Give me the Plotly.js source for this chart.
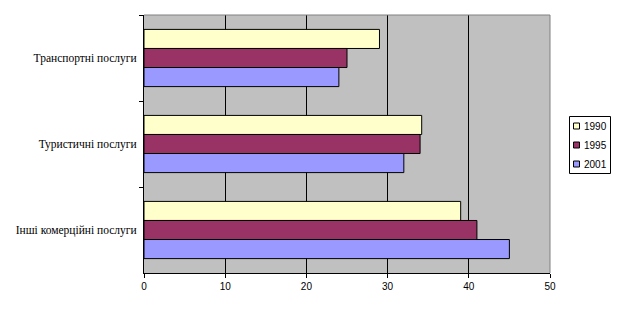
<!DOCTYPE html>
<html><head><meta charset="utf-8">
<script src="https://cdn.plot.ly/plotly-3.0.1.min.js"></script>
<style>body{margin:0;padding:0;background:#fff}#chart{width:621px;height:315px}</style>
</head><body><div id="chart"></div>
<script>
var categories = ['Транспортні послуги', 'Туристичні послуги', 'Інші комерційні послуги'];
var seriesNames = ['1990', '1995', '2001'];
var values1990 = [29, 34.2, 39];
var values1995 = [25, 34, 41];
var values2001 = [24, 32, 45];
var xTicks = [0, 10, 20, 30, 40, 50];
var colors = ['#FFFFCC', '#993366', '#9999FF'];
var allValues = [values1990, values1995, values2001];

var W = 621, H = 315, L = 144, R = 71, T = 15, B = 42;
var pw = W - L - R, ph = H - T - B;
function px(x){ return (x - L) / pw; }
function py(y){ return (H - B - y) / ph; }

var traces = seriesNames.map(function(n, i){
  return {type:'bar', orientation:'h', name:n, y:categories, x:allValues[i],
    marker:{color:colors[i], line:{color:'#000', width:1}}, hoverinfo:'none', showlegend:false};
});
var serif = {family:'Liberation Serif, Times New Roman, serif', size:11.5, color:'#000'};
var sans = {family:'Liberation Sans, Arial, sans-serif', size:10, color:'#000'};

var shapes = [
  {type:'line', xref:'paper', yref:'paper', x0:0, x1:1, y0:1, y1:1, line:{color:'#808080', width:1}},
  {type:'line', xref:'paper', yref:'paper', x0:1, x1:1, y0:0, y1:1, line:{color:'#808080', width:1}},
  {type:'rect', xref:'paper', yref:'paper', x0:px(569.5), x1:px(610.5), y0:py(116.5), y1:py(173.5),
    line:{color:'#000', width:1}, fillcolor:'#fff', layer:'above'}
];
var annotations = [];
seriesNames.forEach(function(n, i){
  var cy = 126 + i * 19;
  shapes.push({type:'rect', xref:'paper', yref:'paper', x0:px(573.5), x1:px(579.5), y0:py(cy - 3), y1:py(cy + 3),
    line:{color:'#000', width:1}, fillcolor:colors[i], layer:'above'});
  annotations.push({xref:'paper', yref:'paper', x:px(582), y:py(cy), xanchor:'left', yanchor:'middle',
    text:n, showarrow:false, font:sans});
});

var layout = {
  width:W, height:H,
  margin:{l:L, r:R, t:T, b:B, pad:0, autoexpand:false},
  paper_bgcolor:'#fff', plot_bgcolor:'#C0C0C0',
  barmode:'group', bargap:0.335, bargroupgap:0,
  font:serif, showlegend:false,
  xaxis:{range:[0,50], tickvals:xTicks, ticktext:xTicks.map(String), showgrid:true, gridcolor:'#000', gridwidth:1,
    zeroline:false, showline:true, linecolor:'#000', linewidth:1, ticks:'outside', ticklen:4, tickcolor:'#000',
    fixedrange:true, tickfont:sans, automargin:false},
  yaxis:{type:'category', autorange:'reversed', showline:true, linecolor:'#000', linewidth:1, ticks:'outside',
    tickson:'boundaries', ticklen:4, tickcolor:'#000', showgrid:false, zeroline:false, tickfont:serif,
    ticklabelstandoff:4, automargin:false},
  shapes:shapes, annotations:annotations
};
Plotly.newPlot('chart', traces, layout, {staticPlot:true, displayModeBar:false});
</script></body></html>
